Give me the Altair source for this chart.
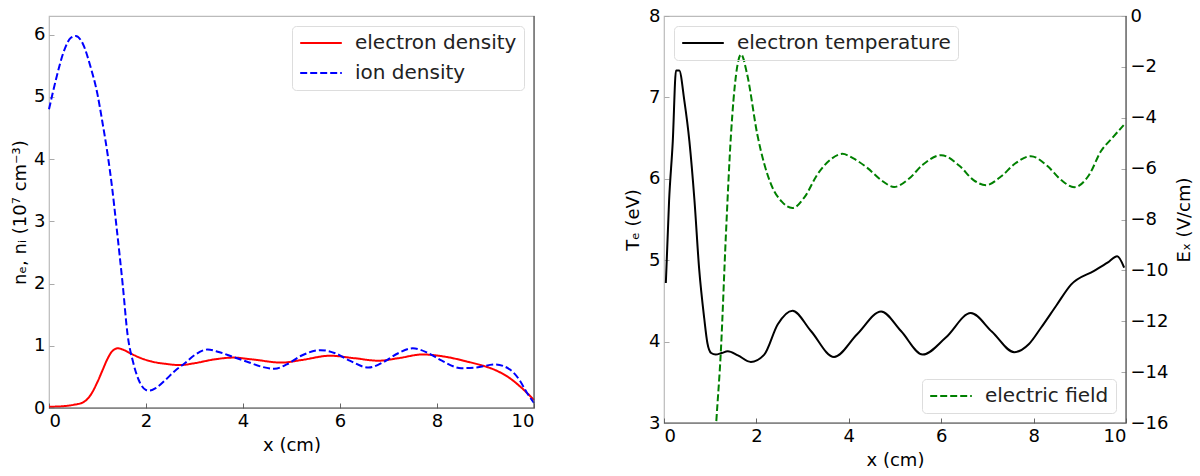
import altair as alt
import pandas as pd

# ---------------- data ----------------
ele_x = [0.0, 0.3, 0.5, 0.7, 0.85, 1.0, 1.1, 1.2, 1.3, 1.42, 1.55, 1.7, 1.9, 2.1, 2.4, 2.7,
         3.0, 3.4, 3.8, 4.2, 4.8, 5.2, 5.8, 6.3, 6.8, 7.2, 7.7, 8.2, 8.6, 8.9, 9.2, 9.5, 9.75, 10.0]
ele_n = [0.02, 0.03, 0.05, 0.09, 0.2, 0.42, 0.6, 0.78, 0.91, 0.96, 0.93, 0.87, 0.80, 0.75, 0.71, 0.69,
         0.72, 0.78, 0.81, 0.78, 0.73, 0.77, 0.84, 0.80, 0.76, 0.80, 0.86, 0.82, 0.75, 0.69, 0.61, 0.48, 0.32, 0.13]

ion_x = [0.0, 0.15, 0.3, 0.45, 0.55, 0.7, 0.85, 1.0, 1.1, 1.21, 1.3, 1.38, 1.45, 1.52, 1.62, 1.73,
         1.85, 2.0, 2.07, 2.2, 2.4, 2.6, 2.8, 3.0, 3.27, 3.5, 3.8, 4.1, 4.4, 4.65, 4.9, 5.2, 5.6,
         5.9, 6.2, 6.59, 6.9, 7.2, 7.5, 7.8, 8.1, 8.5, 8.8, 9.2, 9.5, 9.7, 9.85, 10.0]
ion_n = [4.80, 5.30, 5.72, 5.95, 5.98, 5.85, 5.5, 5.04, 4.6, 4.07, 3.55, 3.0, 2.5, 1.98, 1.18, 0.75,
         0.45, 0.29, 0.28, 0.32, 0.45, 0.6, 0.72, 0.85, 0.94, 0.90, 0.82, 0.74, 0.66, 0.63, 0.70, 0.84, 0.93,
         0.88, 0.76, 0.65, 0.74, 0.88, 0.96, 0.89, 0.76, 0.64, 0.65, 0.70, 0.62, 0.45, 0.25, 0.08]

te_x = [0.04, 0.11, 0.19, 0.26, 0.33, 0.44, 0.55, 0.66, 0.76, 0.87, 0.94, 1.02, 1.12, 1.25, 1.38, 1.6,
        1.88, 2.17, 2.46, 2.78, 3.18, 3.68, 4.18, 4.7, 5.13, 5.6, 6.1, 6.64, 7.1, 7.58, 7.9, 8.16,
        8.5, 8.81, 9.31, 9.6, 9.81, 9.96]
te_v = [4.72, 5.73, 6.46, 7.33, 7.33, 6.96, 6.46, 5.73, 4.9, 4.29, 3.98, 3.86, 3.84, 3.86, 3.88, 3.83,
        3.75, 3.84, 4.21, 4.38, 4.13, 3.81, 4.09, 4.37, 4.13, 3.84, 4.05, 4.35, 4.12, 3.87, 3.97, 4.17,
        4.45, 4.70, 4.87, 4.97, 5.05, 4.91]

ex_x = [1.08, 1.13, 1.23, 1.34, 1.45, 1.56, 1.67, 1.8, 2.02, 2.32, 2.55, 2.78, 3.05, 3.32, 3.6, 3.86,
        4.1, 4.4, 4.7, 4.98, 5.3, 5.6, 6.0, 6.4, 6.7, 6.97, 7.3, 7.6, 7.94, 8.3, 8.6, 8.88, 9.2,
        9.46, 9.7, 9.95]
ex_v = [-17.5, -16.0, -13.2, -8.6, -4.66, -2.3, -1.51, -2.3, -4.66, -6.63, -7.3, -7.55, -7.1, -6.23, -5.65, -5.42,
        -5.6, -5.97, -6.45, -6.72, -6.4, -5.85, -5.47, -5.9, -6.45, -6.65, -6.3, -5.8, -5.51, -5.9, -6.45, -6.73, -6.25,
        -5.31, -4.8, -4.29]

X_TICKS = [0, 2, 4, 6, 8, 10]
N_TICKS = [0, 1, 2, 3, 4, 5, 6]
TE_TICKS = [3, 4, 5, 6, 7, 8]
EX_TICKS = list(range(-16, 1, 2))
DENS_SERIES = ["electron density", "ion density"]

W1, H1 = 485, 392
W2, H2 = 462, 407

FONT = "DejaVu Sans"
SPINE_DARK = "#555555"

one = pd.DataFrame({"k": [0]})


def spines(W, H):
    bottom = alt.Chart(one).mark_rule(color=SPINE_DARK, strokeWidth=1.2).encode(
        x=alt.value(0), x2=alt.value(W), y=alt.value(H))
    right = alt.Chart(one).mark_rule(color=SPINE_DARK, strokeWidth=1.2).encode(
        x=alt.value(W), y=alt.value(0), y2=alt.value(H))
    return [bottom, right]


# ---------------- left panel ----------------
dens = pd.concat([
    pd.DataFrame({"x": ele_x, "n": ele_n, "series": DENS_SERIES[0]}),
    pd.DataFrame({"x": ion_x, "n": ion_n, "series": DENS_SERIES[1]}),
])

x_axis = alt.Axis(values=X_TICKS, title="x (cm)", titlePadding=6, tickColor="#666666")

left_lines = alt.Chart(dens).mark_line(strokeWidth=2, interpolate="monotone").encode(
    x=alt.X("x:Q", scale=alt.Scale(domain=[0, 10], nice=False), axis=x_axis),
    y=alt.Y("n:Q", scale=alt.Scale(domain=[0, 6.3], nice=False),
            axis=alt.Axis(values=N_TICKS, title="nₑ, nᵢ (10⁷ cm⁻³)", tickColor="#aaaaaa", titlePadding=4)),
    color=alt.Color("series:N", scale=alt.Scale(domain=DENS_SERIES, range=["#ff0000", "#0000ff"]),
                    legend=alt.Legend(title=None, orient="top-right")),
    strokeDash=alt.StrokeDash("series:N", scale=alt.Scale(domain=DENS_SERIES, range=[[1, 0], [7, 3]]),
                              legend=alt.Legend(title=None, orient="top-right")),
)

left = alt.layer(left_lines, *spines(W1, H1)).properties(width=W1, height=H1)

# ---------------- right panel ----------------
te_df = pd.DataFrame({"x": te_x, "T": te_v, "s1": "electron temperature"})
ex_df = pd.DataFrame({"x": ex_x, "E": ex_v, "s2": "electric field"})

x_axis2 = alt.Axis(values=X_TICKS, title="x (cm)", titlePadding=6, tickColor="#666666")

te_line = alt.Chart(te_df).mark_line(strokeWidth=2, interpolate="monotone", color="black").encode(
    x=alt.X("x:Q", scale=alt.Scale(domain=[0, 10], nice=False), axis=x_axis2),
    y=alt.Y("T:Q", scale=alt.Scale(domain=[3, 8], nice=False),
            axis=alt.Axis(values=TE_TICKS, title="Tₑ (eV)", orient="left", tickColor="#aaaaaa", titlePadding=6)),
    color=alt.Color("s1:N", scale=alt.Scale(domain=["electron temperature"], range=["black"]),
                    legend=alt.Legend(title=None, orient="top-left")),
)

ex_line = alt.Chart(ex_df).mark_line(strokeWidth=2, interpolate="monotone", clip=True).encode(
    x=alt.X("x:Q", scale=alt.Scale(domain=[0, 10], nice=False)),
    y=alt.Y("E:Q", scale=alt.Scale(domain=[-16, 0], nice=False),
            axis=alt.Axis(values=EX_TICKS, title="Eₓ (V/cm)", orient="right", titleAngle=270,
                          titleBaseline="top", tickColor="#aaaaaa", titlePadding=8)),
    color=alt.Color("s2:N", scale=alt.Scale(domain=["electric field"], range=["#008000"]),
                    legend=alt.Legend(title=None, orient="bottom-right")),
    strokeDash=alt.StrokeDash("s2:N", scale=alt.Scale(domain=["electric field"], range=[[7, 3]]),
                              legend=alt.Legend(title=None, orient="bottom-right")),
)

right = alt.layer(te_line, ex_line, *spines(W2, H2)).resolve_scale(
    y="independent", color="independent", strokeDash="independent"
).resolve_legend(color="independent", strokeDash="independent").properties(width=W2, height=H2)

chart = alt.hconcat(left, right, spacing=130, bounds="flush").resolve_scale(
    color="independent", strokeDash="independent"
).resolve_legend(
    color="independent", strokeDash="independent"
).properties(
    padding={"left": 10, "top": 6, "right": 5, "bottom": 5}
).configure_view(
    stroke="#bbbbbb", strokeWidth=1.2
).configure_axis(
    labelFont=FONT, titleFont=FONT, labelFontSize=18, titleFontSize=18, titleFontWeight="normal",
    labelColor="black", titleColor="black", grid=False, domain=False,
    tickSize=5, offset=-5, labelPadding=4,
).configure_legend(
    labelFont=FONT, labelFontSize=20, labelColor="#222222", strokeColor="#dddddd", cornerRadius=4,
    padding=7, symbolType="M-2.6,0H2.6", symbolSize=256, symbolStrokeWidth=2,
    symbolOffset=12, offset=10, labelOffset=24, rowPadding=10, labelLimit=400,
)

chart.save("out.html", embed_options={"renderer": "svg", "actions": False})
